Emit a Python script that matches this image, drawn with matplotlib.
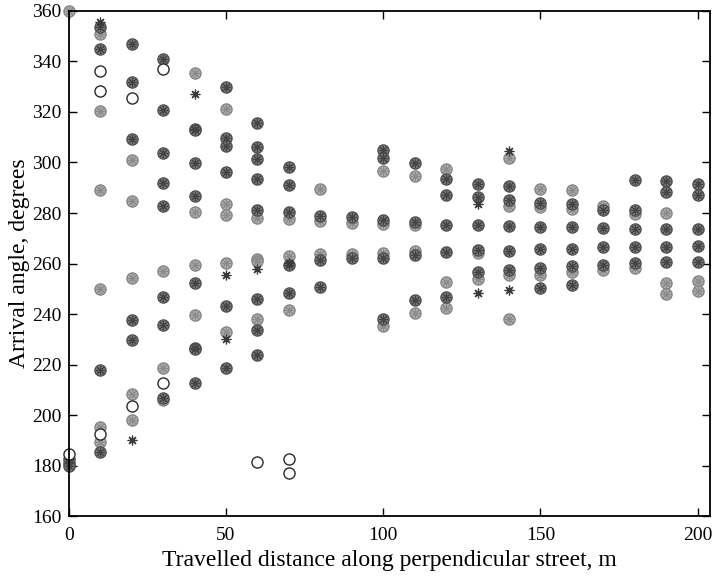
import matplotlib
matplotlib.use('Agg')
import matplotlib.pyplot as plt

# distances along the street, m
dist = [0, 10, 20, 30, 40, 50, 60, 70, 80, 90, 100,
        110, 120, 130, 140, 150, 160, 170, 180, 190, 200]

# arrival angles (degrees) per distance, by marker group
dark_pts = [
    [182.5, 181, 180],
    [353.8, 344.9, 218, 185.4],
    [347, 331.7, 309.4, 237.5, 229.9],
    [340.9, 320.9, 303.9, 291.7, 282.7, 246.7, 235.6, 206.9],
    [313.4, 312.8, 299.8, 286.6, 252.4, 226.7, 226, 212.8],
    [330, 309.7, 306.6, 296.2, 243.1, 218.5],
    [315.6, 306, 301.5, 293.5, 281.3, 246, 233.5, 223.6],
    [298.1, 291.2, 280.4, 259.6, 248.4],
    [278.7, 261.2, 250.6],
    [278.3, 262],
    [305, 301.8, 277.4, 262.3, 237.9],
    [299.7, 276.5, 263.3, 245.5],
    [293.5, 287, 275.4, 264.6, 246.7],
    [291.6, 286.2, 275.2, 265.5, 256.6],
    [290.6, 285.3, 274.7, 264.9, 257.6],
    [284, 274.5, 265.8, 258.3, 250.4],
    [283.6, 274.4, 265.8, 258.9, 251.3],
    [281, 274.1, 266.6, 259.6],
    [293.2, 281.3, 273.7, 266.6, 260.3],
    [292.5, 288.2, 273.7, 266.6, 260.5],
    [291.5, 287.3, 273.7, 266.8, 260.5],
]
light_pts = [
    [360],
    [350.8, 320.2, 289, 250, 195.3, 189.4],
    [301, 284.9, 254.1, 208.3, 198],
    [256.9, 218.5, 206],
    [335.4, 280.4, 259.3, 239.8],
    [321.1, 283.7, 279.1, 260.3, 232.9],
    [278, 261.6, 260.9, 237.9],
    [277.7, 262.9, 241.4],
    [289.6, 277, 263.6],
    [276.1, 263.8],
    [296.5, 275.7, 264.2, 235.2],
    [294.7, 275.2, 264.9, 240.5],
    [297.5, 252.8, 242.5],
    [264.2, 254],
    [301.8, 282.9, 255.3, 238.1],
    [289.5, 282.4, 255.6],
    [289, 281.7, 256.7],
    [282.7, 257.6],
    [279.8, 258.3],
    [280, 252.1, 248.1],
    [253, 249.1],
]
open_pts = [
    [184.5],
    [336.3, 328.4, 192.4],
    [325.5, 203.6],
    [337, 212.8],
    [], [],
    [181.5],
    [182.5, 176.9],
    [], [], [], [], [], [], [], [], [], [], [], [], [],
]
star_pts = [
    [],
    [355.8],
    [190.3],
    [],
    [327.1],
    [255.6, 230],
    [258],
    [260.3],
    [], [], [], [], [],
    [283.6, 248.4],
    [304.4, 249.5],
    [], [], [], [], [], [],
]


def flatten(groups):
    xs, ys = [], []
    for d, vals in zip(dist, groups):
        for v in vals:
            xs.append(d)
            ys.append(v)
    return xs, ys


plt.rcParams['font.family'] = 'Liberation Serif'
fig = plt.figure(figsize=(7.16, 5.76), dpi=100)
ax = fig.add_axes([0.096, 0.104, 0.896, 0.877])

asterisk = (8, 2, 0)

x, y = flatten(light_pts)
ax.plot(x, y, 'o', ms=8, mfc='#b2b2b2', mec='#858585', mew=1, clip_on=False)
ax.plot(x, y, ls='none', marker=asterisk, ms=6.5, mec='#8c8c8c', mew=0.8, clip_on=False)

x, y = flatten(dark_pts)
ax.plot(x, y, 'o', ms=8, mfc='#7c7c7c', mec='#4e4e4e', mew=1, clip_on=False)
ax.plot(x, y, ls='none', marker=asterisk, ms=6.5, mec='#444444', mew=0.8, clip_on=False)

x, y = flatten(open_pts)
ax.plot(x, y, 'o', ms=8, mfc='white', mec='#2a2a2a', mew=1, clip_on=False)

x, y = flatten(star_pts)
ax.plot(x, y, ls='none', marker=asterisk, ms=7, mec='#3a3a3a', mew=0.9, clip_on=False)

ax.set_xlim(0, 204)
ax.set_ylim(160, 360)
ax.set_xticks([0, 50, 100, 150, 200])
ax.set_yticks(range(160, 361, 20))
ax.tick_params(direction='in', top=True, right=True, length=6, width=1,
               labelsize=14, pad=5)
ax.tick_params(axis='x', pad=8)
for s in ax.spines.values():
    s.set_linewidth(1.3)

ax.set_xlabel('Travelled distance along perpendicular street, m', fontsize=17, labelpad=4)
ax.set_ylabel('Arrival angle, degrees', fontsize=17, labelpad=2)

fig.savefig('out.png', dpi=100)
